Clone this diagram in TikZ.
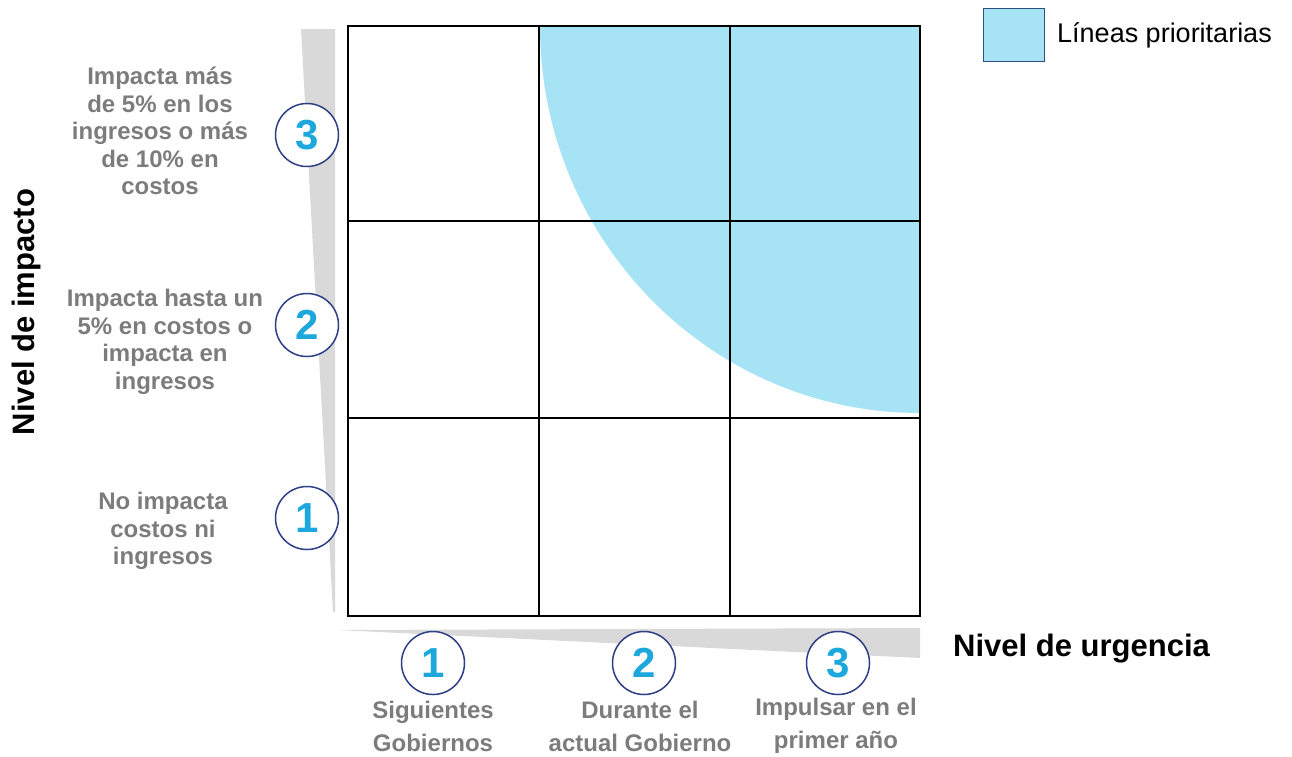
\documentclass[tikz,border=0pt]{standalone}
\usepackage{fontspec}
\setmainfont{Liberation Sans}
\definecolor{txtgray}{HTML}{7C7C7C}
\definecolor{digitblue}{HTML}{1DA8DD}
\definecolor{ringblue}{HTML}{2F3F86}
\definecolor{priofill}{HTML}{A6E3F5}
\definecolor{legborder}{HTML}{2E4F80}
\definecolor{wedgegray}{HTML}{D9D9D9}
\tikzset{
  gridline/.style={line width=2pt, black},
  wedge/.style={fill=wedgegray},
  numring/.style={circle, draw=ringblue, line width=1.5pt, fill=white, minimum size=63pt, inner sep=0pt,
    text=digitblue, font=\fontsize{42}{42}\selectfont\bfseries},
  lvltext/.style={align=center, inner sep=0pt, text=txtgray, font=\fontsize{24}{27.5}\selectfont\bfseries},
  urgtext/.style={align=center, inner sep=0pt, text=txtgray, font=\fontsize{24}{33}\selectfont\bfseries},
  axistitle/.style={inner sep=0pt, font=\fontsize{31}{31}\selectfont\bfseries},
}
\begin{document}
\begin{tikzpicture}[x=1pt,y=-1pt]
\useasboundingbox (0,0) rectangle (1292,756);
% gray wedges
\fill[wedge] (301,29) -- (335,29) -- (335,612) -- (333,612) -- cycle;
\fill[wedge] (338,630) -- (920,628) -- (920,658) -- cycle;
% priority region
\fill[priofill] (920,26) -- (540,26) arc[start angle=180, end angle=90, x radius=380, y radius=387] -- cycle;
% grid
\draw[gridline] (348,26) rectangle (920,616);
\draw[gridline] (539,26) -- (539,616);
\draw[gridline] (730,26) -- (730,616);
\draw[gridline] (348,221) -- (920,221);
\draw[gridline] (348,418) -- (920,418);
% legend
\node[draw=legborder, line width=1pt, fill=priofill, minimum width=61pt, minimum height=53pt, inner sep=0pt] (leg) at (1014,35) {};
\node[anchor=west, inner sep=0pt, font=\fontsize{27}{27}\selectfont] (legtxt) at (1057,35) {Líneas prioritarias};
% left circles
\node[numring] (l3) at (307,135) {3};
\node[numring] (l2) at (307,325) {2};
\node[numring] (l1) at (307,518) {1};
% bottom circles
\node[numring] (b1) at (433,663) {1};
\node[numring] (b2) at (644,663) {2};
\node[numring] (b3) at (838,663) {3};
% left labels
\node[lvltext] (t3) at (160,131) {Impacta más\\de 5\% en los\\ingresos o más\\de 10\% en\\costos};
\node[lvltext] (t2) at (165,342) {Impacta hasta un\\5\% en costos o\\impacta en\\ingresos};
\node[lvltext] (t1) at (163,531) {No impacta\\costos ni\\ingresos};
% bottom labels
\node[urgtext] (u1) at (433,726) {Siguientes\\Gobiernos};
\node[urgtext] (u2) at (640,726) {Durante el\\actual Gobierno};
\node[urgtext] (u3) at (836,726) {Impulsar en el\\primer año};
% axis titles
\node[axistitle, rotate=90] (ytitle) at (26,312) {Nivel de impacto};
\node[axistitle, anchor=base west] (xtitle) at (953,656) {Nivel de urgencia};
\end{tikzpicture}
\end{document}
